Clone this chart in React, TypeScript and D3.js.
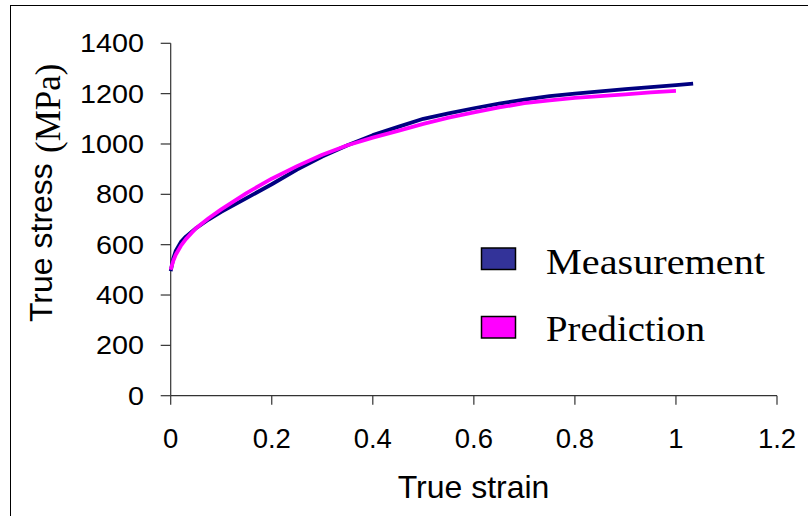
import React from "react";
import * as d3 from "d3";

const measStrain = [0, 0.005, 0.01, 0.02, 0.03, 0.05, 0.075, 0.1, 0.15, 0.2, 0.25, 0.3, 0.35, 0.4, 0.45, 0.5, 0.55, 0.6, 0.65, 0.7, 0.75, 0.8, 0.85, 0.9, 0.95, 1.0, 1.034];
const measStress = [495, 545, 575, 610, 632, 665, 700, 730, 785, 840, 898, 950, 995, 1035, 1068, 1100, 1122, 1142, 1160, 1176, 1190, 1200, 1209, 1218, 1226, 1234, 1240];
const predStrain = [0, 0.005, 0.01, 0.02, 0.03, 0.05, 0.075, 0.1, 0.15, 0.2, 0.25, 0.3, 0.35, 0.4, 0.45, 0.5, 0.55, 0.6, 0.65, 0.7, 0.75, 0.8, 0.85, 0.9, 0.95, 1.0];
const predStress = [500, 535, 560, 595, 622, 665, 705, 740, 805, 862, 912, 957, 995, 1025, 1052, 1080, 1105, 1126, 1145, 1162, 1173, 1183, 1190, 1197, 1205, 1211];
const xTicks = [0, 0.2, 0.4, 0.6, 0.8, 1, 1.2];
const xTickLabels = ["0", "0.2", "0.4", "0.6", "0.8", "1", "1.2"];
const yTicks = [0, 200, 400, 600, 800, 1000, 1200, 1400];
const seriesNames = ["Measurement", "Prediction"];
const seriesColors = ["#000080", "#FF00FF"];
const swatchColors = ["#333399", "#FF00FF"];

const SANS = "'Liberation Sans', Arial, sans-serif";
const SERIF = "'Liberation Serif', 'Times New Roman', serif";

export default function App() {
  const x = d3.scaleLinear().domain([0, 1.2]).range([170.7, 777]);
  const y = d3.scaleLinear().domain([0, 1400]).range([395.7, 43.3]);
  const line = d3
    .line<[number, number]>()
    .x((d) => x(d[0]))
    .y((d) => y(d[1]));
  const meas: [number, number][] = measStrain.map((s, i) => [s, measStress[i]]);
  const pred: [number, number][] = predStrain.map((s, i) => [s, predStress[i]]);
  const series = [meas, pred];
  const legendY = [248, 316.5];
  const legendBase = [273.5, 341];
  const legendLen = [219, 159];

  return (
    <svg
      width={808}
      height={516}
      style={{ position: "absolute", left: 0, top: 0, background: "#fff" }}
    >
      <rect x={0} y={0} width={808} height={516} fill="#fff" />
      <rect x={10.5} y={5.5} width={810} height={520} fill="none" stroke="#000" strokeWidth={1} />

      {/* axes */}
      <line x1={x(0)} x2={x(1.2)} y1={y(0)} y2={y(0)} stroke="#333" strokeWidth={1.2} />
      <line x1={x(0)} x2={x(0)} y1={y(0)} y2={y(1400)} stroke="#333" strokeWidth={1.2} />
      {yTicks.map((t) => (
        <g key={"y" + t}>
          <line x1={x(0) - 10} x2={x(0)} y1={y(t)} y2={y(t)} stroke="#333" strokeWidth={1.2} />
          <text
            transform={`translate(144,${y(t) + 9}) scale(1.15,1)`}
            textAnchor="end"
            fontFamily={SANS}
            fontSize={25}
            fill="#000"
          >
            {String(t)}
          </text>
        </g>
      ))}
      {xTicks.map((t, i) => (
        <g key={"x" + t}>
          <line x1={x(t)} x2={x(t)} y1={y(0)} y2={y(0) + 9} stroke="#333" strokeWidth={1.2} />
          <text x={x(t)} y={448} textAnchor="middle" fontFamily={SANS} fontSize={27.5} fill="#000">
            {xTickLabels[i]}
          </text>
        </g>
      ))}

      {/* axis titles */}
      <text x={473.5} y={497.5} textAnchor="middle" fontFamily={SANS} fontSize={32} fill="#000">
        True strain
      </text>
      <text transform="translate(52,322) rotate(-90)" fontFamily={SANS} fontSize={32} fill="#000">
        True stress
      </text>
      <text transform="translate(60,153) rotate(-90)" fontFamily={SERIF} fontSize={35} fill="#000">
        (MPa)
      </text>

      {/* series */}
      {series.map((s, i) => (
        <path
          key={seriesNames[i]}
          d={line(s) || ""}
          fill="none"
          stroke={seriesColors[i]}
          strokeWidth={3.8}
          strokeLinejoin="round"
        />
      ))}

      {/* legend */}
      {seriesNames.map((n, i) => (
        <g key={"lg" + n}>
          <rect x={481.5} y={legendY[i]} width={34} height={21.5} fill={swatchColors[i]} stroke="#000" strokeWidth={1.5} />
          <text
            x={546}
            y={legendBase[i]}
            fontFamily={SERIF}
            fontSize={36}
            textLength={legendLen[i]}
            lengthAdjust="spacingAndGlyphs"
            fill="#000"
          >
            {n}
          </text>
        </g>
      ))}
    </svg>
  );
}
